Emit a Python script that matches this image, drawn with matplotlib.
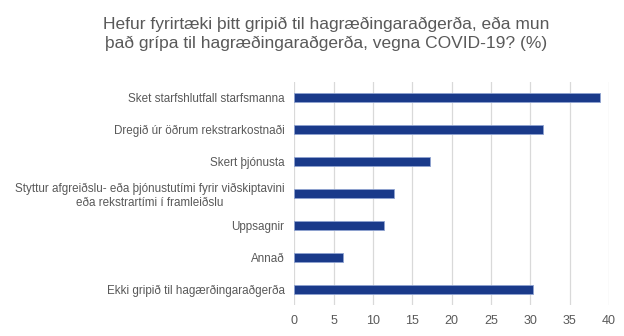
import matplotlib
matplotlib.use('Agg')
import matplotlib.pyplot as plt

plt.rcParams['font.family'] = ['Liberation Sans', 'DejaVu Sans']

TITLE = 'Hefur fyrirtæki þitt gripið til hagræðingaraðgerða, eða mun\nþað grípa til hagræðingaraðgerða, vegna COVID-19? (%)'

categories = [
    'Sket starfshlutfall starfsmanna',
    'Dregið úr öðrum rekstrarkostnaði',
    'Skert þjónusta',
    'Styttur afgreiðslu- eða þjónustutími fyrir viðskiptavini\neða rekstrartími í framleiðslu',
    'Uppsagnir',
    'Annað',
    'Ekki gripið til hagærðingaraðgerða',
]
values = [38.9, 31.6, 17.3, 12.7, 11.4, 6.2, 30.4]
xticks = [0, 5, 10, 15, 20, 25, 30, 35, 40]

text_color = '#595959'

fig = plt.figure(figsize=(6.24, 3.36), dpi=100)
ax = fig.add_axes([0.4716, 0.0914, 0.5044, 0.666])

pos = list(range(len(categories)))
ax.barh(pos, values, height=0.28, color='#1a3a8a', edgecolor='#8fa3d1', linewidth=0.6, zorder=3)

ax.set_ylim(len(categories) - 0.5, -0.5)
ax.set_xlim(0, 40)
ax.set_xticks(xticks)
ax.set_yticks(pos)
ax.set_yticklabels(categories)
for lbl in ax.get_yticklabels():
    lbl.set_multialignment('center')

ax.tick_params(axis='y', length=0, labelsize=8.4, colors=text_color, pad=7)
ax.tick_params(axis='x', length=0, labelsize=9, colors=text_color, pad=7)
ax.grid(axis='x', color='#d9d9d9', linewidth=0.9, zorder=0)
for s in ax.spines.values():
    s.set_visible(False)

fig.text(0.522, 0.9, TITLE, ha='center', va='center', fontsize=12.5, color=text_color, linespacing=1.3)

fig.savefig('out.png', dpi=100)
